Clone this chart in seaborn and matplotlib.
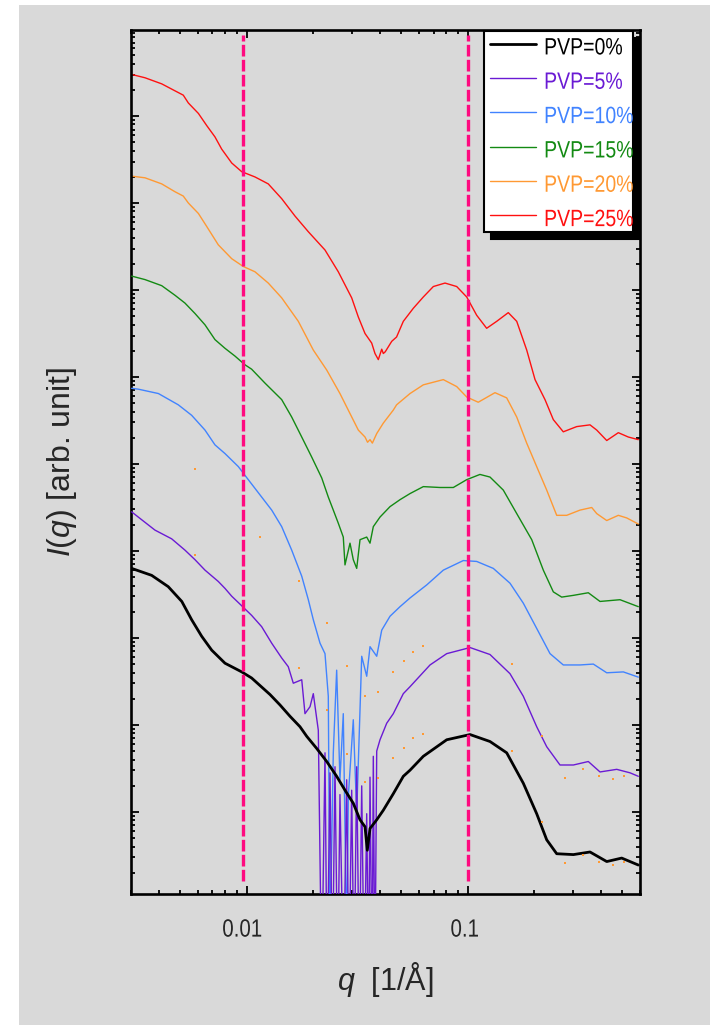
import numpy as np
import pandas as pd
import matplotlib
matplotlib.use("Agg")
import matplotlib.pyplot as plt
from matplotlib.patches import Rectangle
from matplotlib.patheffects import AbstractPathEffect
from matplotlib.transforms import Affine2D
from matplotlib.ticker import LogLocator, NullFormatter
import seaborn as sns

# ---------------------------------------------------------------- data
# scattering vector q [1/A] and log10 of the scattered intensity (arb. unit)
q_pvp0 = [0.00302, 0.00372, 0.00442, 0.00509, 0.00564, 0.00626, 0.00695, 0.00798,
          0.00950, 0.01053, 0.01275, 0.01415, 0.01570, 0.01742, 0.01868, 0.02073,
          0.02301, 0.02552, 0.02783, 0.03034, 0.03254, 0.03428, 0.03510, 0.03611,
          0.03872, 0.04147, 0.04602, 0.05107, 0.05476, 0.06289, 0.08024, 0.1023,
          0.1259, 0.1498, 0.1781, 0.2047, 0.2272, 0.2521, 0.2999, 0.3566, 0.4244,
          0.4960, 0.5896]
log_i_pvp0 = [2.80, 2.72, 2.59, 2.42, 2.21, 2.02, 1.86, 1.71,
              1.61, 1.54, 1.35, 1.23, 1.10, 0.98, 0.87, 0.73,
              0.58, 0.41, 0.25, 0.10, -0.09, -0.17, -0.44, -0.19,
              -0.09, 0.02, 0.21, 0.41, 0.48, 0.64, 0.83, 0.89,
              0.81, 0.68, 0.33, -0.02, -0.32, -0.48, -0.49, -0.46, -0.57,
              -0.53, -0.61]

q_pvp5 = [0.00302, 0.00335, 0.00385, 0.00458, 0.00526, 0.00584, 0.00648, 0.00744,
          0.00798, 0.00856, 0.00950, 0.01053, 0.01169, 0.01298, 0.01440, 0.01542,
          0.01625, 0.01774, 0.01835, 0.01934, 0.02001, 0.02108, 0.02184, 0.02260,
          0.02310, 0.02381, 0.02440, 0.02508, 0.02580, 0.02641, 0.02740, 0.02832,
          0.02900, 0.02984, 0.03060, 0.03144, 0.03230, 0.03312, 0.03400, 0.03489,
          0.03560, 0.03611, 0.03690, 0.03737, 0.03800, 0.03872, 0.04007, 0.04296,
          0.04602, 0.05107, 0.05476, 0.06744, 0.08024, 0.1023, 0.1259, 0.1550,
          0.1781, 0.2047, 0.2272, 0.2609, 0.2999, 0.3503, 0.3957, 0.4709,
          0.5408, 0.5896]
log_i_pvp5 = [3.45, 3.36, 3.24, 3.14, 3.01, 2.90, 2.78, 2.65,
              2.57, 2.48, 2.37, 2.26, 2.13, 1.94, 1.77, 1.67,
              1.48, 1.52, 1.13, 1.21, 1.36, 0.94, -2.00, 0.68,
              -2.00, 0.45, -2.00, 0.52, -2.00, 0.20, -2.00, 0.37,
              -2.00, 0.25, -2.00, 0.52, -2.00, 0.30, -2.00, -0.02,
              -2.00, 0.40, -2.00, 0.64, -2.00, 0.70, 0.83, 1.02,
              1.13, 1.36, 1.44, 1.69, 1.82, 1.89, 1.81, 1.59,
              1.33, 0.98, 0.75, 0.54, 0.54, 0.58, 0.46, 0.49,
              0.45, 0.41]

q_pvp10 = [0.00302, 0.00324, 0.00399, 0.00491, 0.00564, 0.00648, 0.00719, 0.00798,
           0.00917, 0.01017, 0.01169, 0.01298, 0.01440, 0.01598, 0.01774, 0.01900,
           0.02001, 0.02146, 0.02260, 0.02339, 0.02381, 0.02464, 0.02552, 0.02641,
           0.02734, 0.02832, 0.02881, 0.03034, 0.03144, 0.03312, 0.03489, 0.03611,
           0.03872, 0.04079, 0.04447, 0.04935, 0.05476, 0.06516, 0.07745, 0.09536,
           0.1096, 0.1303, 0.1550, 0.1781, 0.2047, 0.2352, 0.2700, 0.3213,
           0.3691, 0.4244, 0.5044, 0.5896]
log_i_pvp10 = [4.87, 4.86, 4.81, 4.68, 4.56, 4.39, 4.22, 4.12,
               3.97, 3.82, 3.62, 3.47, 3.28, 3.01, 2.71, 2.44,
               2.21, 1.94, 1.82, 1.33, -1.50, 0.68, 1.63, 0.37,
               1.13, -1.50, 0.18, 1.06, -0.02, 1.79, 1.56, 1.90,
               1.79, 2.09, 2.25, 2.36, 2.46, 2.61, 2.78, 2.89,
               2.88, 2.80, 2.63, 2.40, 2.11, 1.82, 1.69, 1.69,
               1.70, 1.60, 1.61, 1.55]

q_pvp15 = [0.00302, 0.00347, 0.00413, 0.00474, 0.00526, 0.00584, 0.00648, 0.00719,
           0.00798, 0.00886, 0.00983, 0.01053, 0.01210, 0.01440, 0.01598, 0.01774,
           0.01968, 0.02184, 0.02339, 0.02464, 0.02595, 0.02734, 0.02783, 0.02932,
           0.03034, 0.03144, 0.03254, 0.03489, 0.03611, 0.03737, 0.04007, 0.04447,
           0.04935, 0.05476, 0.06289, 0.07483, 0.08595, 0.09880, 0.1134, 0.1259,
           0.1446, 0.1663, 0.1944, 0.2193, 0.2434, 0.2655, 0.2999, 0.3503,
           0.3957, 0.4873, 0.5896]
log_i_pvp15 = [6.16, 6.12, 6.05, 5.94, 5.85, 5.73, 5.60, 5.43,
               5.33, 5.24, 5.14, 5.09, 4.93, 4.74, 4.54, 4.31,
               4.08, 3.84, 3.62, 3.47, 3.32, 3.16, 2.84, 3.09,
               2.90, 2.80, 3.13, 3.16, 3.09, 3.28, 3.39, 3.51,
               3.59, 3.66, 3.74, 3.73, 3.73, 3.82, 3.88, 3.85,
               3.70, 3.43, 3.13, 2.78, 2.53, 2.47, 2.49, 2.52,
               2.42, 2.44, 2.36]

q_pvp20 = [0.00300, 0.00347, 0.00413, 0.00474, 0.00517, 0.00545, 0.00605, 0.00660,
           0.00744, 0.00856, 0.00966, 0.01090, 0.01252, 0.01440, 0.01712, 0.02001,
           0.02301, 0.02641, 0.02932, 0.03197, 0.03428, 0.03520, 0.03611, 0.03700,
           0.03872, 0.04147, 0.04602, 0.04761, 0.05476, 0.06289, 0.07745, 0.08904,
           0.09880, 0.1114, 0.1326, 0.1498, 0.1663, 0.1845, 0.2047, 0.2272,
           0.2521, 0.2797, 0.3213, 0.3630, 0.3824, 0.4244, 0.4788, 0.5225, 0.5896]
log_i_pvp20 = [7.31, 7.29, 7.22, 7.13, 7.08, 7.00, 6.88, 6.73,
               6.52, 6.36, 6.27, 6.21, 6.08, 5.91, 5.64, 5.31,
               5.08, 4.81, 4.58, 4.39, 4.31, 4.25, 4.28, 4.24,
               4.35, 4.47, 4.62, 4.68, 4.81, 4.91, 4.97, 4.89,
               4.77, 4.71, 4.82, 4.76, 4.54, 4.24, 3.97, 3.70,
               3.41, 3.41, 3.47, 3.50, 3.43, 3.35, 3.41, 3.38, 3.31]

q_pvp25 = [0.00300, 0.00347, 0.00413, 0.00474, 0.00517, 0.00545, 0.00605, 0.00660,
           0.00719, 0.00771, 0.00856, 0.00950, 0.01090, 0.01252, 0.01440, 0.01654,
           0.01900, 0.02260, 0.02595, 0.02984, 0.03197, 0.03428, 0.03675, 0.03803,
           0.03937, 0.04079, 0.04147, 0.04231, 0.04526, 0.04761, 0.05107, 0.05667,
           0.06289, 0.06980, 0.07883, 0.08904, 0.09880, 0.1096, 0.1216, 0.1350,
           0.1523, 0.1663, 0.1845, 0.2012, 0.2232, 0.2434, 0.2700, 0.3105,
           0.3566, 0.3824, 0.4244, 0.4788, 0.5315, 0.5896]
log_i_pvp25 = [8.48, 8.44, 8.37, 8.29, 8.24, 8.15, 8.03, 7.89,
               7.76, 7.62, 7.46, 7.36, 7.30, 7.22, 7.05, 6.85,
               6.67, 6.46, 6.21, 5.91, 5.69, 5.50, 5.39, 5.27,
               5.20, 5.32, 5.27, 5.29, 5.41, 5.46, 5.64, 5.79,
               5.92, 6.04, 6.08, 6.04, 5.92, 5.71, 5.56, 5.64,
               5.74, 5.64, 5.31, 4.97, 4.74, 4.51, 4.37, 4.43,
               4.45, 4.39, 4.27, 4.36, 4.31, 4.28]

# isolated points of the PVP=20% series
q_pvp20_pts = [0.00582, 0.00584, 0.01149, 0.01730, 0.01730, 0.02301, 0.02301, 0.0285,
               0.0285, 0.03428, 0.03428, 0.03937, 0.03937, 0.04573, 0.04573, 0.05161,
               0.05161, 0.05667, 0.05667, 0.0625, 0.0625, 0.1578, 0.1578, 0.2171,
               0.2171, 0.2748, 0.2748, 0.3326, 0.3326, 0.3916, 0.3916, 0.4545,
               0.4545, 0.5096, 0.5096]
log_i_pvp20_pts = [3.94, 2.95, 3.16, 2.66, 1.66, 2.17, 1.17, 1.68,
                   0.67, 1.33, 0.34, 1.38, 0.39, 1.61, 0.62, 1.73,
                   0.74, 1.84, 0.85, 1.91, 0.90, 1.70, 0.70, 0.87,
                   -0.12, 0.39, -0.59, 0.49, -0.49, 0.41, -0.58, 0.38,
                   -0.61, 0.41, -0.58]

labels = ["PVP=0%", "PVP=5%", "PVP=10%", "PVP=15%", "PVP=20%", "PVP=25%"]
colors = ["#000000", "#6a1ad4", "#4183ff", "#138a13", "#ff9933", "#ff1010"]
line_widths = [2.0, 1.0, 1.0, 1.0, 1.0, 1.0]
q_sets = [q_pvp0, q_pvp5, q_pvp10, q_pvp15, q_pvp20, q_pvp25]
log_i_sets = [log_i_pvp0, log_i_pvp5, log_i_pvp10, log_i_pvp15, log_i_pvp20, log_i_pvp25]
q_marks = [0.0096, 0.1]


class GlyphScale(AbstractPathEffect):
    """Rescale glyph outlines about the text origin (condensed lettering),
    optionally nudging them down by `drop` points."""

    def __init__(self, sx=1.0, sy=1.0, drop=0.0):
        super().__init__()
        self._sx, self._sy, self._drop = sx, sy, drop

    def draw_path(self, renderer, gc, tpath, affine, rgbFace=None):
        shift = Affine2D().translate(0, -renderer.points_to_pixels(self._drop))
        tr = Affine2D().scale(self._sx, self._sy) + affine + shift
        renderer.draw_path(gc, tpath, tr, rgbFace)


# ---------------------------------------------------------------- style
sns.set_style("ticks")
plt.rcParams["font.family"] = ["Liberation Sans", "DejaVu Sans"]
plt.rcParams["mathtext.fontset"] = "custom"
plt.rcParams["mathtext.rm"] = "Liberation Sans"
plt.rcParams["mathtext.it"] = "Liberation Sans:italic"

bg = "#d9d9d9"

fig = plt.figure(figsize=(7.1, 10.25), dpi=100, facecolor="white")
fig.patches.append(Rectangle((19 / 710, 0), 1 - 19 / 710, 1 - 5 / 1025,
                             transform=fig.transFigure, facecolor=bg,
                             edgecolor="none", zorder=-10))
ax = fig.add_axes([131 / 710, 1 - 894 / 1025, 509 / 710, 864 / 1025])
ax.set_facecolor(bg)
ax.set_xscale("log")
ax.set_yscale("log")

handles = []
for k, (lab, q, li, col, lw) in enumerate(zip(labels, q_sets, log_i_sets, colors, line_widths)):
    df = pd.DataFrame({"q": q, "I": np.power(10.0, li)})
    sns.lineplot(data=df, x="q", y="I", ax=ax, color=col, linewidth=lw,
                 sort=False, estimator=None, label=lab, legend=False,
                 zorder=6 - k if k else 8)
    handles.append(ax.lines[-1])

pts = pd.DataFrame({"q": q_pvp20_pts, "I": np.power(10.0, log_i_pvp20_pts)})
sns.scatterplot(data=pts, x="q", y="I", ax=ax, color=colors[4], marker="s",
                s=3, linewidth=0, zorder=9, legend=False)

for qm in q_marks:
    ax.axvline(qm, ymin=0.015, ymax=0.994, color="#ff0a80", linewidth=2.4,
               dashes=(3.5, 1.0), zorder=10)

ax.set_xlim(0.003, 0.6)
ax.set_ylim(10 ** -0.943, 10 ** 8.989)

ax.set_xticks([0.01, 0.1])
ax.set_xticklabels(["0.01", "0.1"], fontsize=18)
for t in ax.get_xticklabels():
    t.set_path_effects([GlyphScale(0.82, 1.0)])
ax.xaxis.set_minor_locator(LogLocator(base=10, subs=np.arange(2, 10), numticks=100))
ax.xaxis.set_minor_formatter(NullFormatter())
ax.yaxis.set_major_locator(LogLocator(base=10, numticks=100))
ax.yaxis.set_minor_locator(LogLocator(base=10, subs=np.arange(2, 10), numticks=100))
ax.yaxis.set_major_formatter(NullFormatter())
ax.yaxis.set_minor_formatter(NullFormatter())

ax.tick_params(which="both", direction="in", top=True, right=True, width=1.3,
               color="black")
ax.tick_params(which="major", length=6)
ax.tick_params(which="minor", length=3)
ax.tick_params(axis="x", which="major", pad=17)
for sp in ax.spines.values():
    sp.set_linewidth(1.9)
    sp.set_color("black")

ax.set_xlabel(r"$q$  [1/Å]", fontsize=22, labelpad=13)
ax.set_ylabel(r"$I(q)$ [arb. unit]", fontsize=23, labelpad=34)

leg = ax.legend(handles, labels, loc="upper right", bbox_to_anchor=(0.986, 0.999),
                borderaxespad=0, frameon=True, fancybox=False,
                shadow={"ox": 5, "oy": -5, "color": "black", "alpha": 1},
                edgecolor="black", facecolor="white", framealpha=1,
                fontsize=13, labelcolor="linecolor",
                handlelength=2.55, handletextpad=0.45, labelspacing=0.96, borderpad=0.34)
leg.get_frame().set_linewidth(1.5)
for t in leg.get_texts():
    t.set_path_effects([GlyphScale(1.08, 1.31, drop=3.2)])
leg.set_zorder(20)

fig.savefig("out.png", dpi=100, facecolor=fig.get_facecolor())
